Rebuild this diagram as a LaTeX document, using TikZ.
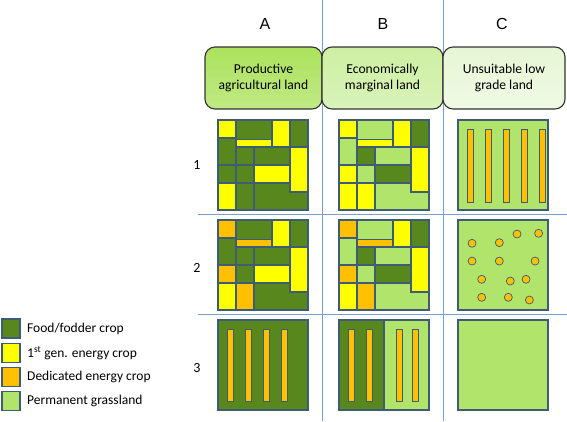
\documentclass[tikz,border=0pt]{standalone}
\usepackage{fontspec}
\setmainfont{Carlito}
\newfontfamily\headfont{Liberation Sans}
\definecolor{food}{RGB}{88,135,30}
\definecolor{first}{RGB}{255,255,0}
\definecolor{dedic}{RGB}{255,192,0}
\definecolor{grass}{RGB}{176,228,106}
\definecolor{edge}{RGB}{62,92,118}
\definecolor{gridline}{RGB}{125,155,205}
\definecolor{hdrA}{RGB}{172,226,92}
\definecolor{hdrB}{RGB}{205,239,162}
\definecolor{hdrC}{RGB}{230,246,212}
\tikzset{
  cell/.style={draw=edge, line width=1.1pt},
  strip/.style={draw=edge, fill=dedic, line width=0.7pt},
  seed/.style={draw=edge, fill=dedic, line width=0.7pt},
  field/.style 2 args={xshift=#1pt, yshift=-#2pt, x=9pt, y=-9pt},
  hdrbox/.style={draw=black!80, line width=1.1pt, rounded corners=10pt,
    minimum height=62pt, align=center, inner sep=2pt,
    font=\fontsize{13.6}{15.5}\selectfont},
  colhead/.style={font=\headfont\fontsize{16}{18}\selectfont},
  rowlab/.style={font=\fontsize{14}{16}\selectfont},
  keybox/.style={draw=edge, line width=1.1pt, minimum width=18pt, minimum height=19pt, inner sep=0pt},
  keytext/.style={anchor=west, inner sep=0pt, font=\fontsize{13.5}{16}\selectfont}
}
% one field with the 15 plots, colours in the order of the list below
\newcommand{\fieldtile}[3]{%
  \begin{scope}[field={#1}{#2}]
    \foreach \xa/\ya/\xb/\yb [count=\i from 0] in {4/7/10/10, 0/0/2/2, 2/0/6/2.2,
      2/2.2/6/3, 6/0/8/3, 8/0/10/3, 0/2/2/5, 2/3/4/5, 4/3/8/5, 8/3/10/8,
      0/5/2/7, 2/5/4/7, 4/5/8/7, 0/7/2/10, 2/7/4/10}{
      \pgfmathsetmacro{\col}{{#3}[\i]}
      \filldraw[cell, fill=\col] (\xa,\ya) rectangle (\xb,\yb);
    }
  \end{scope}}
\begin{document}
\begin{tikzpicture}[x=1pt, y=-1pt]
  \useasboundingbox (0,0) rectangle (567,421);
  % grid
  \draw[gridline] (322,0) -- (322,421);
  \draw[gridline] (443,0) -- (443,421);
  \draw[gridline] (198,214) -- (567,214);
  \draw[gridline] (198,314) -- (567,314);
  % column heads
  \node[colhead] (colA) at (265,24) {A};
  \node[colhead] (colB) at (383,24) {B};
  \node[colhead] (colC) at (502,24) {C};
  \node[hdrbox, minimum width=117pt, top color=hdrA, bottom color=hdrA!75!white] (prod) at (263.5,78) {Productive\\agricultural land};
  \node[hdrbox, minimum width=121pt, top color=hdrB, bottom color=hdrB!75!white] (marg) at (382.5,78) {Economically\\marginal land};
  \node[hdrbox, minimum width=122pt, top color=hdrC, bottom color=hdrC!60!white] (unsu) at (504,78) {Unsuitable low\\grade land};
  % row labels
  \node[rowlab] (row1) at (197,165) {1};
  \node[rowlab] (row2) at (197,268) {2};
  \node[rowlab] (row3) at (197,368) {3};
  % row 1
  \fieldtile{218}{120}{"food","first","food","first","first","food","food","food","food","first","food","food","first","first","food"}
  \fieldtile{339}{120}{"grass","first","grass","first","first","food","grass","food","grass","first","first","grass","food","first","first"}
  \begin{scope}[field={458}{120}]
    \filldraw[cell, fill=grass] (0,0) rectangle (10,10);
    \foreach \u in {1.4,3.4,5.4,7.4,9.35}
      \filldraw[strip] ({\u-0.33},1) rectangle ({\u+0.33},9.1);
  \end{scope}
  % row 2
  \fieldtile{218}{220}{"food","dedic","food","dedic","first","food","food","food","food","first","dedic","food","first","first","dedic"}
  \fieldtile{339}{220}{"grass","dedic","grass","dedic","first","food","grass","food","grass","first","dedic","grass","food","first","dedic"}
  \begin{scope}[field={458}{220}]
    \filldraw[cell, fill=grass] (0,0) rectangle (10,10);
    \foreach \u/\v in {6.56/1.56, 8.96/1.48, 1.56/2.59, 4.59/2.52, 1.56/4.56,
      4.59/4.56, 8.56/4.56, 2.63/6.59, 5.81/6.78, 7.56/6.59, 2.63/8.59,
      5.59/8.59, 7.93/8.89}
      \filldraw[seed] (\u,\v) circle (4pt);
  \end{scope}
  % row 3
  \begin{scope}[field={218}{320}]
    \filldraw[cell, fill=food] (0,0) rectangle (10,10);
    \foreach \u in {1.33,3.33,5.33,7.33}
      \filldraw[strip] ({\u-0.33},1) rectangle ({\u+0.33},9);
  \end{scope}
  \begin{scope}[field={339}{320}]
    \filldraw[cell, fill=food] (0,0) rectangle (5,10);
    \filldraw[cell, fill=grass] (5,0) rectangle (10,10);
    \foreach \u in {1.39,3.39,6.67,8.52}
      \filldraw[strip] ({\u-0.33},1) rectangle ({\u+0.33},9);
  \end{scope}
  \begin{scope}[field={458}{320}]
    \filldraw[cell, fill=grass] (0,0) rectangle (10,10);
  \end{scope}
  % legend
  \foreach \col/\txt [count=\i from 0] in {food/{Food/fodder crop},
      first/{1\textsuperscript{st} gen. energy crop},
      dedic/{Dedicated energy crop}, grass/{Permanent grassland}}{
    \node[keybox, fill=\col] (key\i) at (11,{328.5+24.3*\i}) {};
    \node[keytext] (keytext\i) at (27,{328.5+24.3*\i}) {\txt};
  }
\end{tikzpicture}
\end{document}
